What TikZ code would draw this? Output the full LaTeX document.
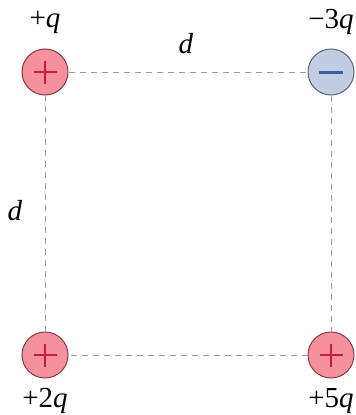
\documentclass[tikz,border=0pt]{standalone}
\usepackage{fontspec}
\setmainfont{Liberation Serif}
\definecolor{pfill}{HTML}{F4919D}
\definecolor{pdraw}{HTML}{8A3A42}
\definecolor{psign}{HTML}{C81E3C}
\definecolor{nfill}{HTML}{C2CDE4}
\definecolor{ndraw}{HTML}{5E6676}
\definecolor{nsign}{HTML}{3E5EA8}
\begin{document}
\begin{tikzpicture}[x=1pt,y=-1pt,
  poscharge/.style={circle,draw=pdraw,line width=1pt,fill=pfill,minimum size=46pt,inner sep=0pt},
  negcharge/.style={circle,draw=ndraw,line width=1pt,fill=nfill,minimum size=46pt,inner sep=0pt},
  conn/.style={draw=gray!80,line width=0.9pt,dash pattern=on 6pt off 5pt},
  lbl/.style={font=\fontsize{29}{31}\selectfont}]
\useasboundingbox (0,0) rectangle (356,415);
\node[poscharge] (a) at (45,72) {};
\node[negcharge] (b) at (331,72) {};
\node[poscharge] (c) at (45,355) {};
\node[poscharge] (d) at (331,355) {};
\foreach \n in {a,c,d}{
  \draw[psign,line width=2.6pt] ([xshift=-11.5pt]\n.center) -- ([xshift=11.5pt]\n.center);
  \draw[psign,line width=2.6pt] ([yshift=-11.5pt]\n.center) -- ([yshift=11.5pt]\n.center);
}
\draw[nsign,line width=3pt] ([xshift=-12pt]b.center) -- ([xshift=12pt]b.center);
\draw[conn] (a) -- (b);
\draw[conn] (b) -- (d);
\draw[conn] (d) -- (c);
\draw[conn] (c) -- (a);
\node[lbl] (la) at (45,22) {+\textit{q}};
\node[lbl] (lb) at (331,22) {−3\textit{q}};
\node[lbl] (lc) at (45,401) {+2\textit{q}};
\node[lbl] (ld) at (331,401) {+5\textit{q}};
\node[lbl] (dt) at (186,44) {\textit{d}};
\node[lbl] (dl) at (15,211) {\textit{d}};
\end{tikzpicture}
\end{document}
